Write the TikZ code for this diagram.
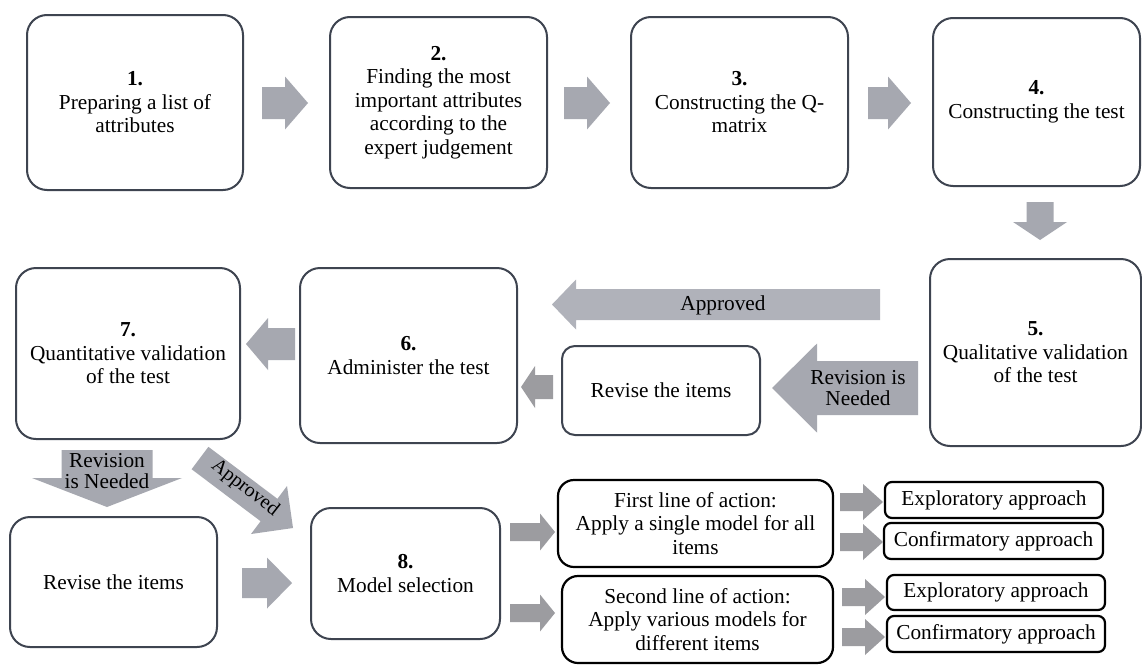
\documentclass[tikz,border=0pt]{standalone}
\usepackage{fontspec}
\setmainfont{Liberation Serif}
\definecolor{boxc}{RGB}{62,68,80}
\definecolor{arrc}{RGB}{166,168,176}
\definecolor{arrl}{RGB}{176,178,186}
\definecolor{arrd}{RGB}{156,156,160}
% horizontal block arrow: [colour]{tail x}{tip x}{centre y}{shaft half}{head half}{signed head length}
\newcommand\harr[7][arrc]{\fill[#1] (#2,{#4-#5}) -- ({#3-(#7)},{#4-#5}) -- ({#3-(#7)},{#4-#6}) -- (#3,#4) -- ({#3-(#7)},{#4+#6}) -- ({#3-(#7)},{#4+#5}) -- (#2,{#4+#5}) -- cycle;}
% vertical block arrow: [colour]{tail y}{tip y}{centre x}{shaft half}{head half}{signed head length}
\newcommand\varr[7][arrc]{\fill[#1] ({#4-#5},#2) -- ({#4-#5},{#3-(#7)}) -- ({#4-#6},{#3-(#7)}) -- (#4,#3) -- ({#4+#6},{#3-(#7)}) -- ({#4+#5},{#3-(#7)}) -- ({#4+#5},#2) -- cycle;}
% box node from corners
\newcommand\bx[7]{\node[#6, minimum width={(#4-#2)*1pt}, minimum height={(#5-#3)*1pt}] (#1) at ({(#2+#4)/2},{(#3+#5)/2}) {#7};}
\begin{document}
\begin{tikzpicture}[x=1pt,y=-1pt,
  every node/.style={font=\fontsize{21.3}{23.5}\selectfont, align=center, inner sep=0pt},
  bigbox/.style={draw=boxc, line width=2pt, rounded corners=20pt, fill=white},
  midbox/.style={draw=boxc, line width=2pt, rounded corners=13pt, fill=white},
  lbox/.style={draw=black, line width=2.2pt, rounded corners=16pt, fill=white},
  abox/.style={draw=black, line width=2.2pt, rounded corners=7pt, fill=white},
  lbl/.style={font=\fontsize{21.3}{21.5}\selectfont}]
\useasboundingbox (0,0) rectangle (1142,664);
\fill[white] (0,0) rectangle (1142,664);

% boxes
\bx{b1}{27}{15}{243}{190}{bigbox}{\textbf{1.}\\Preparing a list of\\attributes}
\bx{b2}{330}{17}{547}{188}{bigbox}{\textbf{2.}\\Finding the most\\important attributes\\according to the\\expert judgement}
\bx{b3}{631}{17}{848}{188}{bigbox}{\textbf{3.}\\Constructing the Q-\\matrix}
\bx{b4}{933}{18}{1140}{186}{bigbox}{\textbf{4.}\\Constructing the test}
\bx{b5}{930}{259}{1141}{446}{bigbox}{\textbf{5.}\\Qualitative validation\\of the test}
\bx{b6}{300}{268}{517}{443}{bigbox}{\textbf{6.}\\Administer the test}
\bx{b7}{16}{268}{240}{439}{bigbox}{\textbf{7.}\\Quantitative validation\\of the test}
\bx{r1}{562}{346}{760}{435}{midbox}{Revise the items}
\bx{r2}{10}{517}{217}{647}{bigbox}{Revise the items}
\bx{b8}{311}{508}{500}{639}{bigbox}{\textbf{8.}\\Model selection}
\bx{l1}{558}{480}{833}{567}{lbox}{First line of action:\\Apply a single model for all\\items}
\bx{l2}{562}{576}{833}{663}{lbox}{Second line of action:\\Apply various models for\\different items}
\bx{e1}{885}{482}{1103}{518}{abox}{Exploratory approach}
\bx{c1}{884}{523}{1103}{559}{abox}{Confirmatory approach}
\bx{e2}{887}{575}{1105}{610}{abox}{Exploratory approach}
\bx{c2}{887}{616}{1105}{652}{abox}{Confirmatory approach}

% block arrows
\harr{262}{308}{103}{16}{26.5}{23}
\harr{564}{610}{103}{16}{26.5}{23}
\harr{868}{911}{103}{16}{26.5}{23}
\varr{202}{240}{1040}{13.5}{27}{18}
\harr[arrl]{880}{552}{304.5}{15.5}{25}{-24}
\harr{918}{772}{388}{27}{44.5}{-45}
\harr[arrd]{553}{521}{387}{12}{21}{-14}
\harr{295}{246}{344}{16}{26}{-22}
\varr{450}{507}{107}{45.5}{75}{29}
\fill[arrc] (191.6,469.2) -- (208.4,446.8) -- (277.4,498.8) -- (287,486) -- (293,528) -- (251,534) -- (260.6,521.2) -- cycle;
\harr{242}{292}{583}{15}{25.5}{25}
\harr[arrd]{510}{555}{532}{9}{18.5}{15}
\harr[arrd]{510}{555}{613}{9}{18.5}{15}
\harr[arrd]{840}{883}{502}{9}{18}{20}
\harr[arrd]{840}{883}{542}{9}{18}{20}
\harr[arrd]{842}{885}{597}{9}{18}{20}
\harr[arrd]{842}{885}{637}{9}{18}{20}

% arrow labels
\node[lbl] (la1) at (723,305) {Approved};
\node[lbl] (lr1) at (858,388) {Revision is\\Needed};
\node[lbl] (lr2) at (107,471) {Revision\\is Needed};
\node[lbl, rotate=-38, font=\fontsize{20}{21}\selectfont] (la2) at (245,488) {Approved};
\end{tikzpicture}
\end{document}
